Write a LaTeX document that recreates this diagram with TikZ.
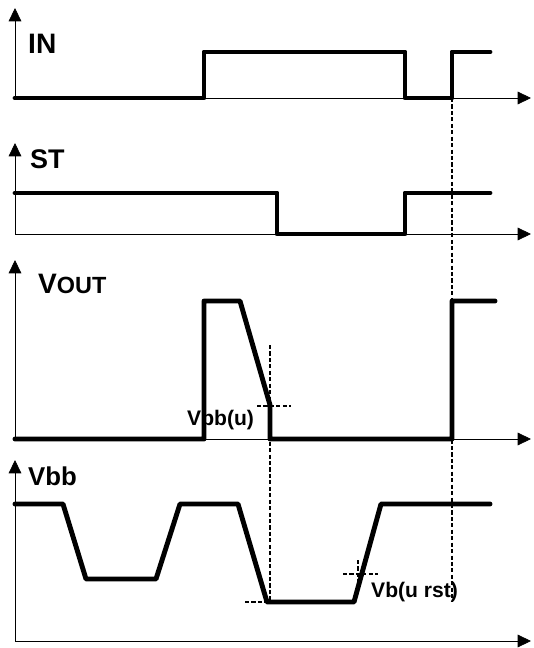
\documentclass[tikz,border=0pt]{standalone}
\usepackage{fontspec}
\setmainfont{Liberation Sans}
\usetikzlibrary{arrows.meta}
\tikzset{
  sig/.style={line width=4.2pt, line cap=round, line join=round},
  ax/.style={line width=0.6pt, -{Triangle[length=4mm, width=3.8mm]}},
  guide/.style={line width=0.9pt, dash pattern=on 3.5pt off 2pt},
  lbl/.style={font=\bfseries, anchor=base west, inner sep=0pt}
}

\begin{document}
\begin{tikzpicture}[x=0.03cm, y=-0.03cm]
\useasboundingbox (0,0) rectangle (533,648);
% axes
\coordinate (inO) at (15,98);   \coordinate (inY) at (15,8);    \coordinate (inX) at (531,98);
\coordinate (stO) at (15,234);  \coordinate (stY) at (15,143);  \coordinate (stX) at (531,234);
\coordinate (voO) at (15,439);  \coordinate (voY) at (15,260);  \coordinate (voX) at (531,439);
\coordinate (vbO) at (15,641);  \coordinate (vbY) at (15,460);  \coordinate (vbX) at (531,641);
\foreach \p in {in,st,vo,vb} {
  \draw[ax] (\p O) -- (\p Y);
  \draw[ax] (\p O) -- (\p X);
}
% labels
\node[lbl, font=\fontsize{24}{24}\bfseries] (inlbl) at (28,54) {IN};
\node[lbl, font=\fontsize{23}{23}\bfseries] (stlbl) at (30,168) {ST};
\node[lbl] (volbl) at (38,293) {{\fontsize{24}{24}\selectfont V}{\fontsize{20}{20}\selectfont OUT}};
\node[lbl, font=\fontsize{22}{22}\bfseries] (vblbl) at (28,485) {Vbb};
\node[lbl, font=\fontsize{18}{18}\bfseries] (vbulbl) at (187,425) {Vbb(u)};
\node[lbl, font=\fontsize{18}{18}\bfseries] (vrstlbl) at (371,597) {Vb(u rst)};
% guides
\coordinate (g1t) at (270,345); \coordinate (g1b) at (270,602);
\coordinate (g2t) at (452,98);  \coordinate (g2b) at (452,602);
\coordinate (h1a) at (257,406); \coordinate (h1b) at (291,406);
\coordinate (h2a) at (245,602); \coordinate (h2b) at (267,602);
\coordinate (h3a) at (343,574); \coordinate (h3b) at (378,574);
\coordinate (v3a) at (358,560); \coordinate (v3b) at (358,586);
\draw[guide] (g1t) -- (g1b);
\draw[guide] (g2t) -- (g2b);
\draw[guide] (h1a) -- (h1b);
\draw[guide] (h2a) -- (h2b);
\draw[guide] (h3a) -- (h3b);
\draw[guide] (v3a) -- (v3b);
% signals
\draw[sig] (15,98) -- (204,98) -- (204,52) -- (405,52) -- (405,98) -- (452,98) -- (452,52) -- (490,52);
\draw[sig] (15,193) -- (277,193) -- (277,234) -- (405,234) -- (405,193) -- (490,193);
\draw[sig] (15,439) -- (204,439) -- (204,301) -- (240,301) -- (270,405) -- (270,439)
  -- (452,439) -- (452,301) -- (495,301);
\draw[sig] (15,504) -- (63,504) -- (86,579) -- (156,579) -- (180,504) -- (238,504)
  -- (267,602) -- (354,602) -- (381,504) -- (490,504);
\end{tikzpicture}
\end{document}
